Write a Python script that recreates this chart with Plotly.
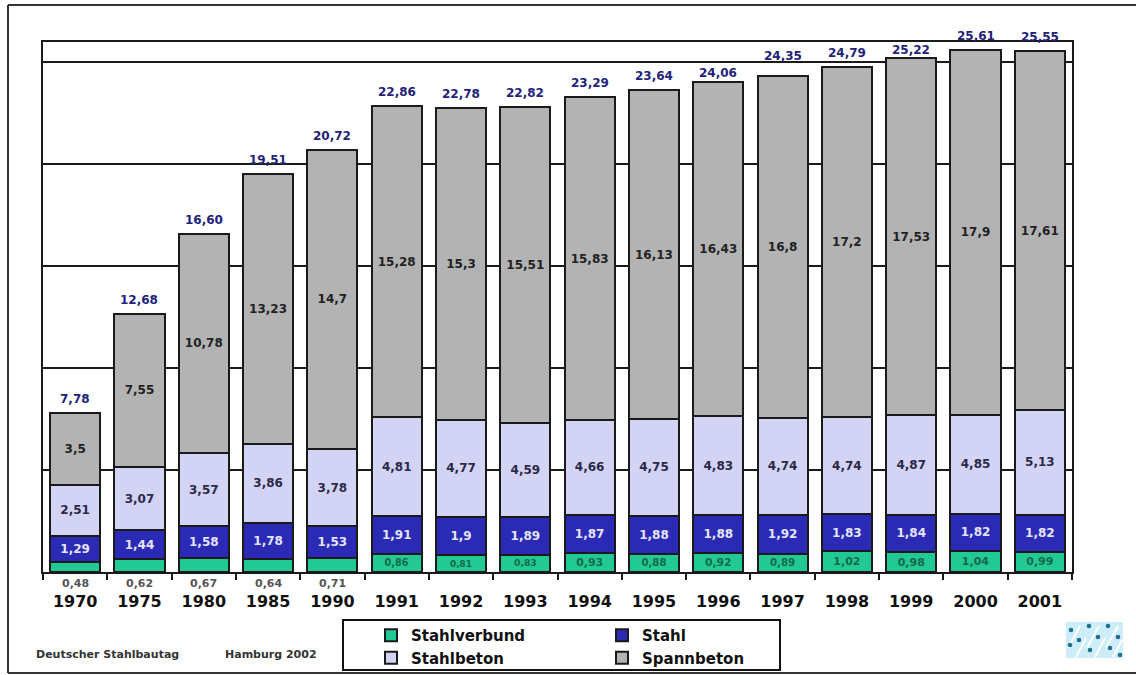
import plotly.graph_objects as go

# Brückenflächen nach Bauart (Mio. m²), gestapelt je Jahr
years = ["1970", "1975", "1980", "1985", "1990", "1991", "1992", "1993",
         "1994", "1995", "1996", "1997", "1998", "1999", "2000", "2001"]
stahlverbund = [0.48, 0.62, 0.67, 0.64, 0.71, 0.86, 0.81, 0.83,
                0.93, 0.88, 0.92, 0.89, 1.02, 0.98, 1.04, 0.99]
stahl = [1.29, 1.44, 1.58, 1.78, 1.53, 1.91, 1.9, 1.89,
         1.87, 1.88, 1.88, 1.92, 1.83, 1.84, 1.82, 1.82]
stahlbeton = [2.51, 3.07, 3.57, 3.86, 3.78, 4.81, 4.77, 4.59,
              4.66, 4.75, 4.83, 4.74, 4.74, 4.87, 4.85, 5.13]
spannbeton = [3.5, 7.55, 10.78, 13.23, 14.7, 15.28, 15.3, 15.51,
              15.83, 16.13, 16.43, 16.8, 17.2, 17.53, 17.9, 17.61]

FONT = "DejaVu Sans"
FIG_W, FIG_H = 1136, 675
M_L, M_R, M_T, M_B = 43, 64, 42, 103
PLOT_W = FIG_W - M_L - M_R
PLOT_H = FIG_H - M_T - M_B


def px_x(px):
    return (px - M_L) / PLOT_W


def px_y(py):
    return (FIG_H - M_B - py) / PLOT_H


def de(v, digits=None):
    s = f"{v:.{digits}f}" if digits is not None else f"{v:g}"
    return s.replace(".", ",")


totals = [round(a + b + c + d, 2) for a, b, c, d in
          zip(stahlverbund, stahl, stahlbeton, spannbeton)]

# small Stahlverbund segments get their value printed below the axis
verbund_inside = [de(v) if v >= 0.75 else "" for v in stahlverbund]

fig = go.Figure()

line = dict(color="#1a1a1a", width=2)
series = [
    ("Stahlverbund", stahlverbund, "#22c995", verbund_inside, "#136b4a", 11, "legend"),
    ("Stahl", stahl, "#2a2ab5", [de(v) for v in stahl], "#e4e4ff", 12, "legend2"),
    ("Stahlbeton", stahlbeton, "#d3d3f6", [de(v) for v in stahlbeton], "#2a2a48", 12, "legend"),
    ("Spannbeton", spannbeton, "#b3b3b3", [de(v) for v in spannbeton], "#222222", 12, "legend2"),
]
for name, vals, color, txt, tcol, tsize, leg in series:
    fig.add_trace(go.Bar(
        x=years, y=vals, name=name, legend=leg,
        marker=dict(color=color, line=line),
        text=txt, textposition="inside", insidetextanchor="middle",
        textangle=0,
        textfont=dict(family=FONT, size=tsize, color=tcol, weight="bold"),
        hoverinfo="x+y+name",
    ))

annotations = []
# totals above each stack (x given as category index); a few are nudged
# so they sit clear of the grid lines
total_shift = {"1996": 9, "1997": 20, "1999": 8}
for i, t in enumerate(totals):
    annotations.append(dict(
        x=i, y=t, xref="x", yref="y", yshift=total_shift.get(years[i], 14),
        yanchor="middle", showarrow=False, text=de(t, 2),
        font=dict(family=FONT, size=12, color="#22227a", weight="bold"),
    ))

for i, v in enumerate(stahlverbund):
    if v < 0.75:
        annotations.append(dict(
            x=i, y=0, xref="x", yref="y", yshift=-11, yanchor="middle",
            showarrow=False, text=de(v),
            font=dict(family=FONT, size=11, color="#555555", weight="bold"),
        ))

for txt, px in (("Deutscher Stahlbautag", 34), ("Hamburg 2002", 223)):
    annotations.append(dict(
        x=px_x(px), y=px_y(654), xref="paper", yref="paper", xanchor="left",
        yanchor="middle", showarrow=False, text=txt,
        font=dict(family=FONT, size=11, color="#333333", weight="bold"),
    ))

shapes = []
frame = dict(color="#333333", width=2)
# outer frame
shapes.append(dict(type="line", xref="paper", yref="paper", line=frame,
                   x0=px_x(8), x1=px_x(1140), y0=px_y(5), y1=px_y(5)))
shapes.append(dict(type="line", xref="paper", yref="paper", line=frame,
                   x0=px_x(8), x1=px_x(8), y0=px_y(5), y1=px_y(673)))
shapes.append(dict(type="line", xref="paper", yref="paper", line=frame,
                   x0=px_x(8), x1=px_x(1140), y0=px_y(673), y1=px_y(673)))
# legend box
shapes.append(dict(type="rect", xref="paper", yref="paper",
                   line=dict(color="#111111", width=2),
                   x0=px_x(343), x1=px_x(780), y0=px_y(620), y1=px_y(670)))

# logo tile
shapes.append(dict(type="rect", xref="paper", yref="paper", line=dict(width=0),
                   fillcolor="#cdeef9", layer="above",
                   x0=px_x(1066), x1=px_x(1123), y0=px_y(622), y1=px_y(658)))
for (ax, ay), (bx, by) in (((1068, 648), (1080, 626)), ((1087, 648), (1099, 626)),
                           ((1106, 648), (1118, 626)), ((1076, 657), (1086, 638)),
                           ((1095, 657), (1105, 638)), ((1113, 657), (1122, 640))):
    shapes.append(dict(type="line", xref="paper", yref="paper", layer="above",
                       line=dict(color="#ffffff", width=2),
                       x0=px_x(ax), y0=px_y(ay), x1=px_x(bx), y1=px_y(by)))
for cx, cy in ((1071, 630), (1089, 626), (1108, 626), (1079, 640), (1098, 637),
               (1118, 637), (1070, 645), (1090, 650), (1110, 648), (1120, 655)):
    shapes.append(dict(type="circle", xref="paper", yref="paper", layer="above",
                       line=dict(width=0), fillcolor="#1f6f96",
                       x0=px_x(cx - 2.3), x1=px_x(cx + 2.3),
                       y0=px_y(cy - 2.3), y1=px_y(cy + 2.3)))

legend_font = dict(family=FONT, size=15, color="#111111", weight="bold")
fig.update_layout(
    width=FIG_W, height=FIG_H,
    margin=dict(l=M_L, r=M_R, t=M_T, b=M_B, autoexpand=False),
    paper_bgcolor="white", plot_bgcolor="white",
    barmode="stack", bargap=0.22,
    font=dict(family=FONT, color="#111111"),
    legend=dict(x=px_x(371), y=px_y(619), xanchor="left", yanchor="top",
                orientation="v", traceorder="normal", font=legend_font,
                bgcolor="rgba(0,0,0,0)", tracegroupgap=0),
    legend2=dict(x=px_x(602), y=px_y(619), xanchor="left", yanchor="top",
                 orientation="v", traceorder="normal", font=legend_font,
                 bgcolor="rgba(0,0,0,0)", tracegroupgap=0),
    xaxis=dict(type="category", range=[-0.5, len(years) - 0.5],
               tickson="boundaries", ticks="outside", ticklen=6, tickwidth=2,
               tickcolor="#1a1a1a", showline=True, linewidth=2,
               linecolor="#1a1a1a", mirror=True, showgrid=False,
               ticklabelstandoff=14, automargin=False,
               tickfont=dict(family=FONT, size=16, color="#111111", weight="bold")),
    yaxis=dict(range=[0, 26], tick0=0, dtick=5, showgrid=True,
               gridcolor="#1a1a1a", gridwidth=2, showticklabels=False,
               ticks="", showline=True, linewidth=2, linecolor="#1a1a1a",
               mirror=True, zeroline=False, automargin=False),
    annotations=annotations,
    shapes=shapes,
    showlegend=True,
)

fig.write_html("out.html")
